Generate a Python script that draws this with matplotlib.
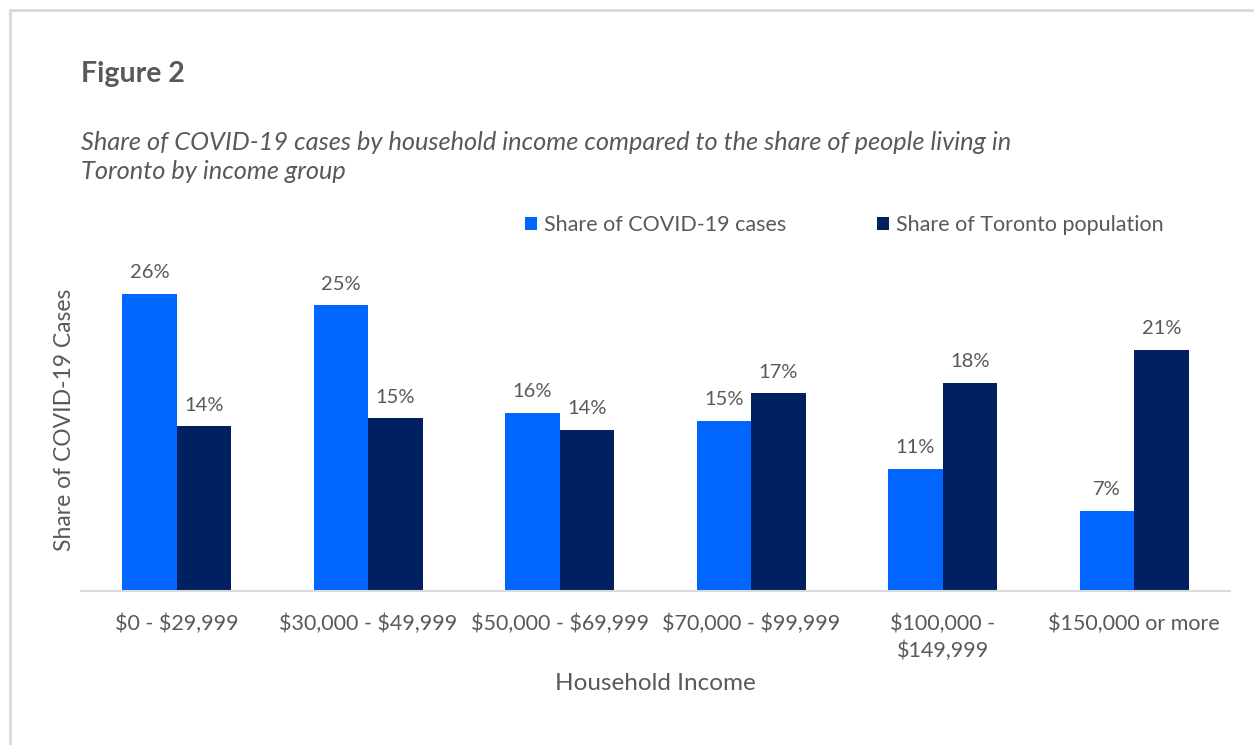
import matplotlib.pyplot as plt
import numpy as np
from matplotlib.patches import Rectangle

# Data
income_groups = ['$0 - $29,999', '$30,000 - $49,999', '$50,000 - $69,999',
                 '$70,000 - $99,999', '$100,000 -\n$149,999', '$150,000 or more']
share_cases = [26.0, 25.0, 15.6, 14.9, 10.7, 7.0]
share_population = [14.4, 15.1, 14.1, 17.3, 18.2, 21.1]
series_names = ['Share of COVID-19 cases', 'Share of Toronto population']

blue = '#0066FF'
navy = '#002060'
grey = '#595959'

plt.rcParams['font.family'] = ['Lato', 'DejaVu Sans']
plt.rcParams['text.parse_math'] = False

W, H = 1254, 745
fig = plt.figure(figsize=(W / 100, H / 100), dpi=100)

# light frame around the chart
fig.patches.append(Rectangle((10 / W, -0.05), 1.1, 1 - 10 / H + 0.05,
                             transform=fig.transFigure, fill=False,
                             edgecolor='#D9D9D9', linewidth=2))

# axes placement in pixels
left, right, bottom, top = 81, 1230, 591, 248
ax = fig.add_axes([left / W, 1 - bottom / H, (right - left) / W, (bottom - top) / H])

x = np.arange(len(income_groups))
bw = 0.285
b1 = ax.bar(x - bw / 2, share_cases, bw, color=blue, label=series_names[0])
b2 = ax.bar(x + bw / 2, share_population, bw, color=navy, label=series_names[1])

for bars in (b1, b2):
    for rect in bars:
        h = rect.get_height()
        ax.annotate(f'{h:.0f}%', (rect.get_x() + rect.get_width() / 2, h),
                    xytext=(0, 9), textcoords='offset points',
                    ha='center', va='bottom', fontsize=14.5, color=grey)

ax.set_xlim(-0.5, len(income_groups) - 0.5)
ax.set_ylim(0, 30)
ax.set_yticks([])
ax.set_xticks(x)
ax.set_xticklabels(income_groups, fontsize=15.5, color=grey, linespacing=1.45)
ax.tick_params(axis='x', length=0, pad=16)
for s in ['top', 'right', 'left']:
    ax.spines[s].set_visible(False)
ax.spines['bottom'].set_color('#D9D9D9')
ax.spines['bottom'].set_linewidth(1.5)

ax.set_xlabel('Household Income', fontsize=17.5, color=grey, labelpad=8)
ax.set_ylabel('Share of COVID-19 Cases', fontsize=16.5, color=grey, labelpad=4)

leg = ax.legend(loc='lower left', bbox_to_anchor=((512 - left) / (right - left), 1.0),
                ncol=2, frameon=False, fontsize=15.5, handlelength=0.55,
                handleheight=0.55, handletextpad=0.35, columnspacing=4.2,
                borderaxespad=0.2)
for t in leg.get_texts():
    t.set_color(grey)

fig.text(81 / W, 1 - 74 / H, 'Figure 2', fontsize=20.5, fontweight='bold',
         color=grey, ha='left', va='center')
fig.text(81 / W, 1 - 157 / H,
         'Share of COVID-19 cases by household income compared to the share of people living in\n'
         'Toronto by income group',
         fontsize=18.3, style='italic', color=grey, ha='left', va='center',
         linespacing=1.32)

fig.savefig('out.png', dpi=100)
